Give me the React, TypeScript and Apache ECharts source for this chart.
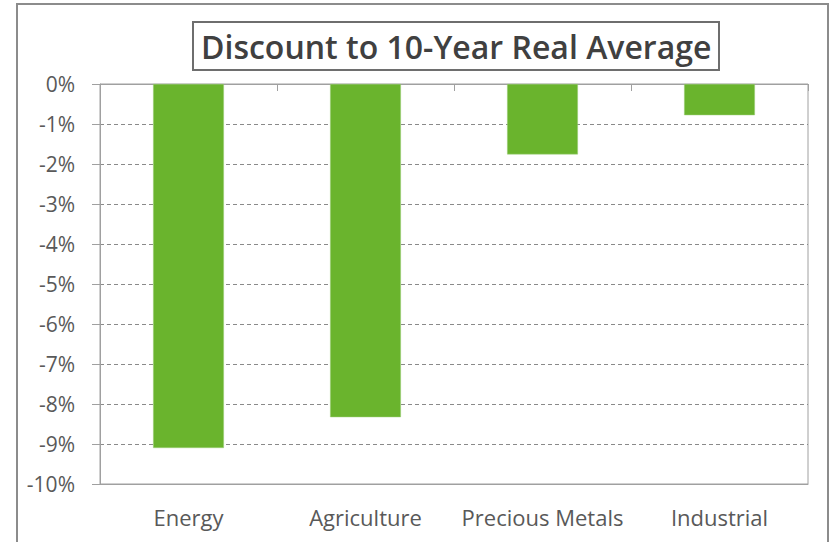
import React, { useEffect, useRef } from "react";
import * as echarts from "echarts";

const categories = ["Energy", "Agriculture", "Precious Metals", "Industrial"];
const values = [-9.1, -8.33, -1.76, -0.78];
const yTicks = { min: -10, max: 0, interval: 1 };
const titleText = "Discount to 10-Year Real Average";

export default function App() {
  const ref = useRef<HTMLDivElement>(null);
  useEffect(() => {
    const chart = echarts.init(ref.current!, null, { renderer: "svg" });
    const font = "'Open Sans', 'Noto Sans', sans-serif";
    chart.setOption({
      animation: false,
      backgroundColor: "#ffffff",
      title: {
        text: titleText,
        left: 193,
        top: 22,
        padding: [2, 8, 2, 8],
        borderColor: "#6e6e6e",
        borderWidth: 2,
        textStyle: { fontFamily: font, fontSize: 32, fontWeight: 600, color: "#404040", lineHeight: 44 },
      },
      graphic: [
        {
          type: "rect",
          shape: { x: 17, y: 4, width: 811, height: 560 },
          style: { fill: "none", stroke: "#8c8c8c", lineWidth: 2 },
          silent: true,
        },
      ],
      grid: {
        left: 100,
        right: 23,
        top: 84,
        bottom: 58,
        show: true,
        borderColor: "#a0a0a0",
        borderWidth: 1,
        backgroundColor: "transparent",
      },
      xAxis: [
        {
          type: "category",
          data: categories,
          position: "bottom",
          axisLine: { onZero: false, show: true, lineStyle: { color: "#a0a0a0" } },
          axisTick: { show: false },
          axisLabel: { interval: 0, fontFamily: font, fontSize: 22, color: "#595959", margin: 22 },
        },
        {
          type: "category",
          data: categories,
          position: "top",
          axisLine: { show: true, lineStyle: { color: "#a0a0a0" } },
          axisTick: { show: true, inside: true, length: 7, lineStyle: { color: "#a0a0a0" } },
          axisLabel: { show: false },
        },
      ],
      yAxis: {
        type: "value",
        min: yTicks.min,
        max: yTicks.max,
        interval: yTicks.interval,
        axisLine: { show: true, lineStyle: { color: "#a0a0a0" } },
        axisTick: { show: true, length: 8, lineStyle: { color: "#a0a0a0" } },
        axisLabel: {
          fontFamily: font,
          fontSize: 21,
          color: "#595959",
          margin: 25,
          formatter: (v: number) => `${v}%`,
        },
        splitLine: {
          show: true,
          lineStyle: { color: "#8a8a8a", type: [4, 3], width: 1 },
        },
      },
      series: [
        {
          type: "bar",
          data: values,
          xAxisIndex: 0,
          barWidth: "40%",
          itemStyle: { color: "#6ab42d", borderColor: "#9fcf7a", borderWidth: 0.5 },
        },
      ],
    });
    return () => chart.dispose();
  }, []);
  return (
    <div
      ref={ref}
      style={{ position: "absolute", left: 0, top: 0, width: 831, height: 542 }}
    />
  );
}
